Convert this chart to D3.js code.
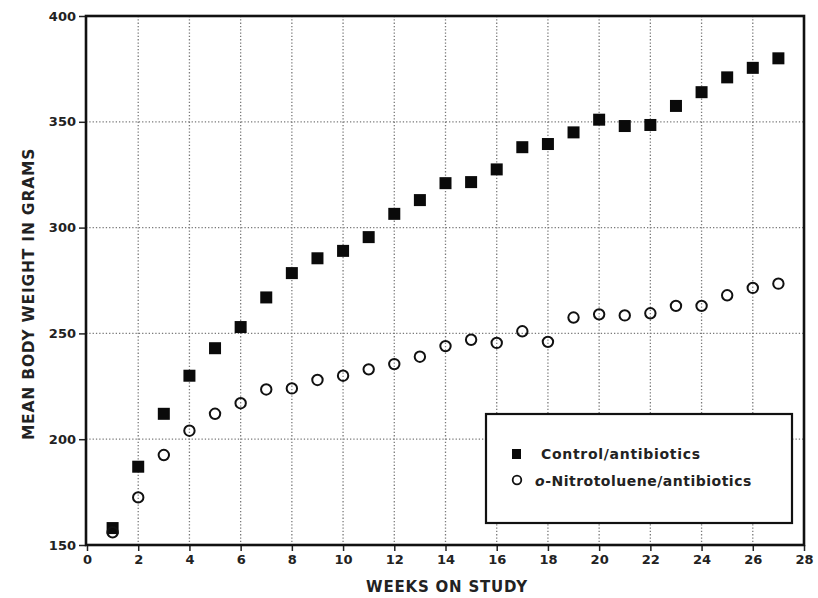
<!DOCTYPE html>
<html><head><meta charset="utf-8">
<script src="https://cdn.jsdelivr.net/npm/d3@7"></script>
<style>body{margin:0;background:#fff;} svg{display:block;}</style>
</head><body>
<svg id="c" width="818" height="598"></svg>
<script>
const weeks = [1,2,3,4,5,6,7,8,9,10,11,12,13,14,15,16,17,18,19,20,21,22,23,24,25,26,27];
const control = [158,187,212,230,243,253,267,278.5,285.5,289,295.5,306.5,313,321,321.5,327.5,338,339.5,345,351,348,348.5,357.5,364,371,375.5,380];
const nitro = [156,172.5,192.5,204,212,217,223.5,224,228,230,233,235.5,239,244,247,245.5,251,246,257.5,259,258.5,259.5,263,263,268,271.5,273.5];
const xTicks = [0,2,4,6,8,10,12,14,16,18,20,22,24,26,28];
const yTicks = [150,200,250,300,350,400];
const xGrid = [2,4,6,8,10,12,14,16,18,20,22,24,26];
const yGrid = [200,250,300,350];
const seriesNames = ["Control/antibiotics", "-Nitrotoluene/antibiotics"];

const svg = d3.select("#c");
const L = 86, R = 804, T = 16, B = 545;
const x = d3.scaleLinear().domain([0,28]).range([L+1, R]);
const y = d3.scaleLinear().domain([150,400]).range([B, T]);
const font = "'DejaVu Sans', Verdana, sans-serif";

// grid
svg.append("g").selectAll("line").data(xGrid).join("line")
  .attr("x1", d=>x(d)).attr("x2", d=>x(d)).attr("y1", T).attr("y2", B)
  .attr("stroke", "#7a7a7a").attr("stroke-width", 1.3).attr("stroke-dasharray", "1.3,2");
svg.append("g").selectAll("line").data(yGrid).join("line")
  .attr("x1", L).attr("x2", R).attr("y1", d=>y(d)).attr("y2", d=>y(d))
  .attr("stroke", "#7a7a7a").attr("stroke-width", 1.3).attr("stroke-dasharray", "1.3,2");

// axes
const xAxis = d3.axisBottom(x).tickValues(xTicks).tickSize(6).tickPadding(4).tickFormat(d3.format("d"));
const gx = svg.append("g").attr("transform", `translate(0,${B})`).call(xAxis);
const yAxis = d3.axisLeft(y).tickValues(yTicks).tickSize(7).tickPadding(3).tickFormat(d3.format("d"));
const gy = svg.append("g").attr("transform", `translate(${L},0)`).call(yAxis);
[gx, gy].forEach(g => {
  g.select(".domain").remove();
  g.selectAll(".tick line").attr("stroke", "#222").attr("stroke-width", 1.5);
  g.selectAll(".tick text").attr("fill", "#222").attr("font-family", font)
    .attr("font-size", 13).attr("font-weight", "bold");
});

// frame
svg.append("rect").attr("x", L).attr("y", T).attr("width", R-L).attr("height", B-T)
  .attr("fill", "none").attr("stroke", "#111").attr("stroke-width", 2.6);

// legend box
const lg = svg.append("g");
lg.append("rect").attr("x", 486).attr("y", 414).attr("width", 306).attr("height", 109)
  .attr("fill", "#fff").attr("stroke", "#111").attr("stroke-width", 2.2);

// data marks
const sq = 12;
svg.append("g").selectAll("rect").data(weeks).join("rect")
  .attr("x", (d,i)=>x(d)-sq/2).attr("y", (d,i)=>y(control[i])-sq/2)
  .attr("width", sq).attr("height", sq).attr("fill", "#0a0a0a");
svg.append("g").selectAll("circle").data(weeks).join("circle")
  .attr("cx", d=>x(d)).attr("cy", (d,i)=>y(nitro[i])).attr("r", 5.2)
  .attr("fill", "none").attr("stroke", "#111").attr("stroke-width", 2);

// legend entries
lg.append("rect").attr("x", 512).attr("y", 449).attr("width", 9).attr("height", 10).attr("fill", "#0a0a0a");
lg.append("circle").attr("cx", 517).attr("cy", 480).attr("r", 4.3).attr("fill", "none").attr("stroke", "#111").attr("stroke-width", 1.8);
lg.append("text").attr("x", 541).attr("y", 459).attr("font-family", font).attr("font-size", 14)
  .attr("font-weight", "bold").attr("fill", "#222").attr("letter-spacing", 0.7).text(seriesNames[0]);
const t2 = lg.append("text").attr("x", 535).attr("y", 486).attr("font-family", font).attr("font-size", 14)
  .attr("font-weight", "bold").attr("fill", "#222").attr("letter-spacing", 0.5);
t2.append("tspan").attr("font-style", "italic").text("o");
t2.append("tspan").text(seriesNames[1]);

// axis titles
svg.append("text").attr("x", 447).attr("y", 592).attr("text-anchor", "middle")
  .attr("font-family", font).attr("font-size", 15).attr("font-weight", "bold").attr("fill", "#222")
  .attr("letter-spacing", 0.8).text("WEEKS ON STUDY");
svg.append("text").attr("transform", "translate(34,294) rotate(-90)").attr("text-anchor", "middle")
  .attr("font-family", font).attr("font-size", 15.5).attr("font-weight", "bold").attr("fill", "#222")
  .attr("letter-spacing", 0.8).text("MEAN BODY WEIGHT IN GRAMS");
</script>
</body></html>
